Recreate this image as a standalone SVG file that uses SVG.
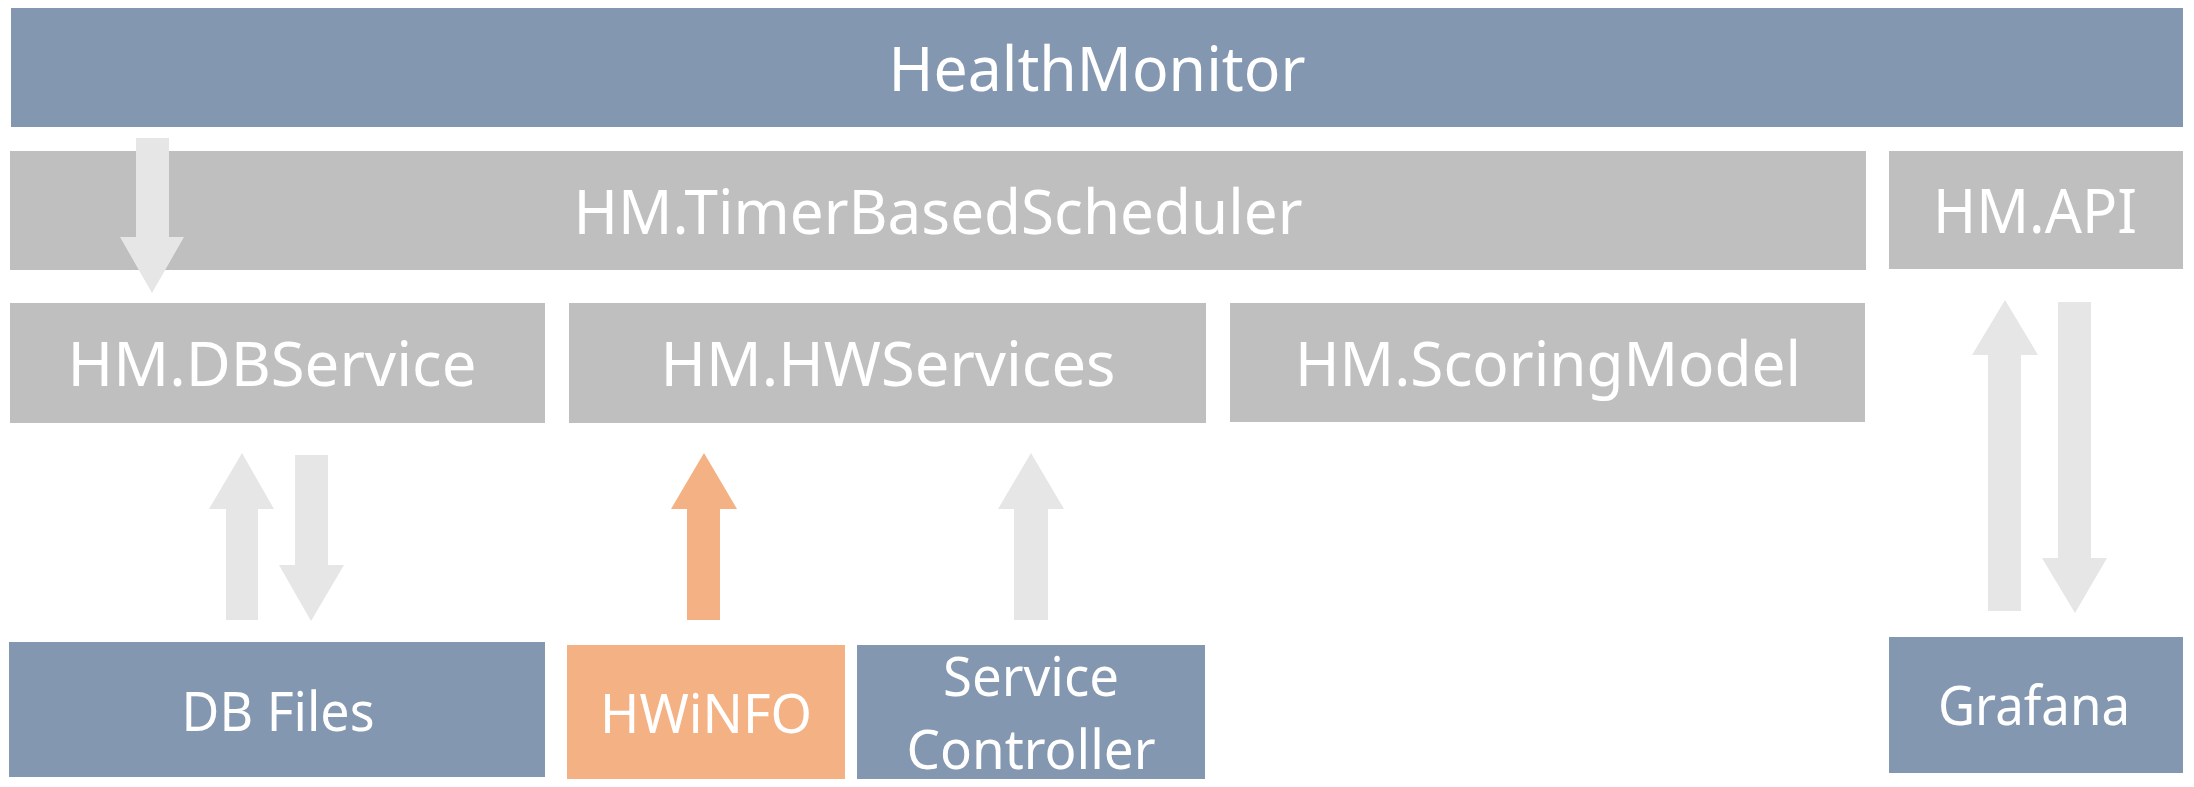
<svg xmlns="http://www.w3.org/2000/svg" width="2194" height="787" viewBox="0 0 2194 787">
<style>
.blue{fill:#8497B0}
.gray{fill:#BFBFBF}
.orange{fill:#F4B183}
.arrow{fill:#E7E6E6}
.arrowO{fill:#F4B183}
text{font-family:"Noto Sans","Open Sans","Liberation Sans",sans-serif;fill:#FFFFFF;text-anchor:middle}
.big{font-size:62px}
.small{font-size:55px}
</style>
<rect width="2194" height="787" fill="#FFFFFF"/>
<g id="HealthMonitor"><rect class="blue" x="11" y="8" width="2172" height="119"/><text class="big" x="1097" y="91" textLength="417" lengthAdjust="spacingAndGlyphs">HealthMonitor</text></g>
<g id="TimerBasedScheduler"><rect class="gray" x="10" y="151" width="1856" height="119"/><text class="big" x="938" y="234" textLength="729" lengthAdjust="spacingAndGlyphs">HM.TimerBasedScheduler</text></g>
<g id="API"><rect class="gray" x="1889" y="151" width="294" height="118"/><text class="big" x="2035" y="233" textLength="204" lengthAdjust="spacingAndGlyphs">HM.API</text></g>
<g id="DBService"><rect class="gray" x="10" y="303" width="535" height="120"/><text class="big" x="272" y="386" textLength="409" lengthAdjust="spacingAndGlyphs">HM.DBService</text></g>
<g id="HWServices"><rect class="gray" x="569" y="303" width="637" height="120"/><text class="big" x="888" y="386" textLength="455" lengthAdjust="spacingAndGlyphs">HM.HWServices</text></g>
<g id="ScoringModel"><rect class="gray" x="1230" y="303" width="635" height="119"/><text class="big" x="1548" y="386" textLength="506" lengthAdjust="spacingAndGlyphs">HM.ScoringModel</text></g>
<g id="DBFiles"><rect class="blue" x="9" y="642" width="536" height="135"/><text class="small" x="278" y="731" textLength="193" lengthAdjust="spacingAndGlyphs">DB Files</text></g>
<g id="HWiNFO"><rect class="orange" x="567" y="645" width="278" height="134"/><text class="small" x="706" y="733" textLength="212" lengthAdjust="spacingAndGlyphs">HWiNFO</text></g>
<g id="ServiceController"><rect class="blue" x="857" y="645" width="348" height="134"/><text class="small" x="1031" y="696" textLength="176" lengthAdjust="spacingAndGlyphs">Service</text><text class="small" x="1031" y="769" textLength="249" lengthAdjust="spacingAndGlyphs">Controller</text></g>
<g id="Grafana"><rect class="blue" x="1889" y="637" width="294" height="136"/><text class="small" x="2034" y="725" textLength="192" lengthAdjust="spacingAndGlyphs">Grafana</text></g>
<g id="connectors">
<polygon class="arrow" points="136,138 169,138 169,237 184,237 152,293 120,237 136,237"/>
<polygon class="arrow" points="242,453 274,509 258,509 258,620 226,620 226,509 209,509"/>
<polygon class="arrow" points="295,455 328,455 328,565 344,565 311,621 279,565 295,565"/>
<polygon class="arrowO" points="704,453 737,509 720,509 720,620 687,620 687,509 671,509"/>
<polygon class="arrow" points="1031,453 1064,509 1048,509 1048,620 1014,620 1014,509 998,509"/>
<polygon class="arrow" points="2005,300 2038,355 2021,355 2021,611 1988,611 1988,355 1972,355"/>
<polygon class="arrow" points="2058,302 2091,302 2091,558 2107,558 2075,613 2042,558 2058,558"/>
</g>
</svg>
